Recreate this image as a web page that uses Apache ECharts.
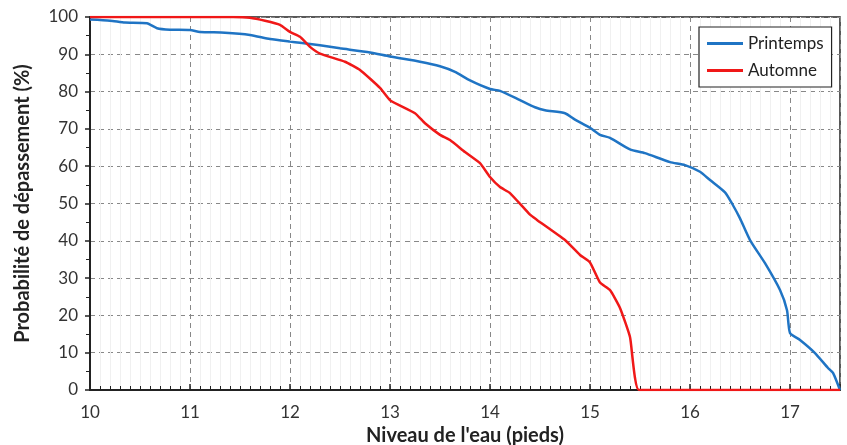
<!DOCTYPE html>
<html><head><meta charset="utf-8">
<script src="https://cdn.jsdelivr.net/npm/echarts@6/dist/echarts.min.js"></script>
<style>html,body{margin:0;padding:0;background:#fff}#c{width:847px;height:445px}</style>
</head><body><div id="c"></div>
<script>
const springX = [10.0,10.2,10.35,10.57,10.67,10.8,11.0,11.1,11.35,11.6,11.8,12.0,12.1,12.3,12.5,12.8,13.0,13.3,13.5,13.65,13.8,14.0,14.1,14.3,14.45,14.55,14.75,14.85,15.0,15.1,15.2,15.4,15.55,15.8,15.95,16.1,16.2,16.35,16.42,16.5,16.6,16.75,16.9,16.97,17.0,17.1,17.25,17.38,17.43,17.5];
const springY = [99.3,99.0,98.5,98.3,97.0,96.6,96.5,96.0,95.8,95.2,94.1,93.4,93.1,92.4,91.6,90.5,89.4,88.0,86.8,85.3,83.0,80.7,80.2,77.7,75.8,75.0,74.2,72.5,70.3,68.4,67.6,64.5,63.5,61.1,60.3,58.5,56.3,53.0,50.0,46.0,40.2,34.0,26.8,21.4,15.3,13.4,9.9,5.9,4.6,0.0];
const autumnX = [10.0,11.0,11.43,11.6,11.75,11.9,12.0,12.1,12.2,12.3,12.55,12.7,12.9,13.0,13.25,13.35,13.5,13.6,13.75,13.9,14.0,14.1,14.2,14.4,14.47,14.75,14.9,15.0,15.1,15.2,15.3,15.4,15.49,16.0,17.0,17.5];
const autumnY = [100,100,100,99.8,99.0,97.9,96.0,94.7,92.0,90.2,88.0,85.8,81.0,77.7,74.2,71.5,68.4,67.0,63.8,60.8,57.1,54.4,52.8,47.0,45.6,40.2,36.2,34.2,28.8,26.8,22.0,14.2,0,0,0,0];
const seriesNames = ['Printemps','Automne'];
const xTicks = [10,11,12,13,14,15,16,17];

const zip = (a,b) => a.map((v,i)=>[v,b[i]]);
const FONT = 'Lato';
const chart = echarts.init(document.getElementById('c'));
chart.setOption({
  animation:false,
  textStyle:{fontFamily:FONT},
  grid:{left:90,right:7,top:17,bottom:55,show:true,borderColor:'#222',borderWidth:1.5,
        containLabel:false,outerBoundsMode:'none'},
  legend:{
    data:seriesNames, orient:'vertical', left:699, top:27,
    padding:[8,8,8,8], itemGap:10, itemWidth:36, itemHeight:3, icon:'rect',
    borderColor:'#222', borderWidth:1.2, backgroundColor:'#fff',
    textStyle:{fontFamily:FONT,fontSize:17,color:'#222'}
  },
  xAxis:{
    type:'value', min:10, max:17.5, interval:1,
    name:"Niveau de l'eau (pieds)", nameLocation:'middle', nameGap:35,
    nameTextStyle:{fontFamily:FONT,fontSize:20,fontWeight:'bold',color:'#222'},
    axisLine:{show:true,lineStyle:{color:'#222',width:2}},
    axisTick:{show:true,inside:true,length:6,lineStyle:{color:'#222',width:1.5}},
    minorTick:{show:true,splitNumber:10,length:4,lineStyle:{color:'#222',width:1}},
    axisLabel:{fontFamily:FONT,fontSize:17,color:'#333',margin:14,showMaxLabel:false,
      formatter:v=> xTicks.includes(v)?String(v):''},
    splitLine:{show:true,lineStyle:{color:'#888',type:[5,4],width:1}},
    minorSplitLine:{show:true,lineStyle:{color:'#f0f0f0',width:1}}
  },
  yAxis:{
    type:'value', min:0, max:100, interval:10,
    name:'Probabilité de dépassement (%)', nameLocation:'middle', nameGap:57,
    nameTextStyle:{fontFamily:FONT,fontSize:20,fontWeight:'bold',color:'#222'},
    axisLine:{show:true,lineStyle:{color:'#222',width:2}},
    axisTick:{show:true,inside:false,length:5,lineStyle:{color:'#222',width:1.5}},
    minorTick:{show:true,splitNumber:2,length:4,lineStyle:{color:'#222',width:1}},
    axisLabel:{fontFamily:FONT,fontSize:17,color:'#333',margin:12},
    splitLine:{show:true,lineStyle:{color:'#888',type:[5,4],width:1}}
  },
  series:[
    {name:seriesNames[0],type:'line',data:zip(springX,springY),showSymbol:false,smooth:0.2,
     lineStyle:{color:'#1f74c4',width:2.5},itemStyle:{color:'#1f74c4'},z:3},
    {name:seriesNames[1],type:'line',data:zip(autumnX,autumnY),showSymbol:false,smooth:0.15,
     lineStyle:{color:'#f01818',width:2.5},itemStyle:{color:'#f01818'},z:4}
  ]
});
</script></body></html>
